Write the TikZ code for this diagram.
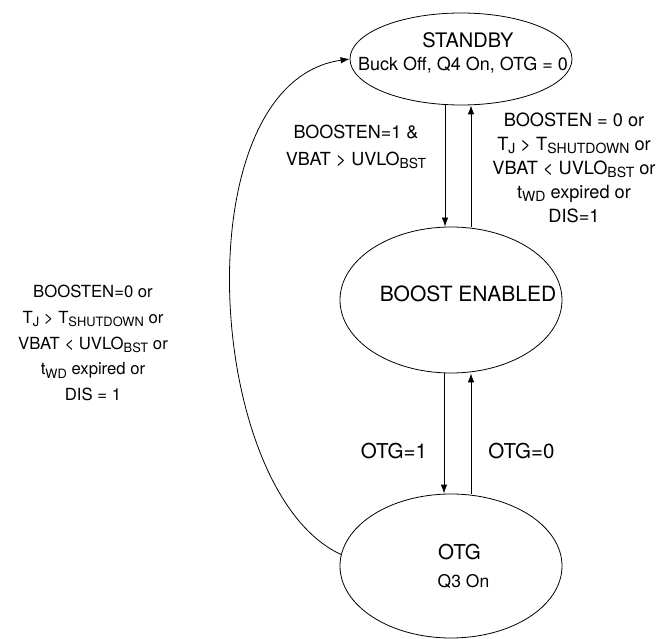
\documentclass[tikz,border=0pt]{standalone}
\usepackage{fontspec}
\setmainfont{TeX Gyre Heros}
\usetikzlibrary{shapes.geometric,arrows.meta}
\newcommand{\sub}[1]{\raisebox{-3.2pt}{\scalebox{0.77}{#1}}}

\begin{document}
\begin{tikzpicture}[x=1pt,y=-1pt,
    state/.style={draw, ellipse, line width=0.8pt, minimum width=222pt, minimum height=146pt, inner sep=0pt},
    flow/.style={-{Latex[length=9pt,width=6.5pt]}, line width=0.8pt},
    cond/.style={align=center, inner sep=0pt}]
      \useasboundingbox (0,0) rectangle (659,639);

      % STANDBY state
      \node[state, minimum height=92pt] (standby) at (461,59) {};
      \node[anchor=base, font=\fontsize{20}{24}\selectfont] (standbyname) at (468,48) {STANDBY};
      \node[anchor=base, font=\fontsize{18}{21}\selectfont] (standbyinfo) at (463,70.5) {Buck Off, Q4 On, OTG = 0};

      % BOOST ENABLED state
      \node[state] (boost) at (451,300) {};
      \node[anchor=base, font=\fontsize{21}{25}\selectfont] (boostname) at (468,301.5) {BOOST ENABLED};

      % OTG state
      \node[state, minimum height=144pt] (otg) at (451,566) {};
      \node[anchor=base, font=\fontsize{20.5}{24}\selectfont] (otgname) at (459.5,559.5) {OTG};
      \node[anchor=base, font=\fontsize{17.5}{21}\selectfont] (otginfo) at (463.5,587) {Q3 On};

      % STANDBY <-> BOOST ENABLED
      \draw[flow] ([xshift=-16pt]standby.south) -- ([xshift=-6pt]boost.north);
      \draw[flow] ([xshift=20pt]boost.north) -- ([xshift=10pt]standby.south);
      \node[cond, font=\fontsize{18}{27}\selectfont] (enter) at (356,147) {BOOSTEN=1 \&\\VBAT > UVLO\sub{BST}};
      \node[cond, font=\fontsize{18.2}{24}\selectfont] (leave) at (574,168) {BOOSTEN = 0 or\\T\sub{J} > T\sub{SHUTDOWN} or\\VBAT < UVLO\sub{BST} or\\t\sub{WD} expired or\\DIS=1};

      % BOOST ENABLED <-> OTG
      \draw[flow] ([xshift=-7pt]boost.south) -- ([xshift=-7pt]otg.north);
      \draw[flow] ([xshift=20pt]otg.north) -- ([xshift=20pt]boost.south);
      \node[anchor=base, font=\fontsize{20.5}{24}\selectfont] (otgon) at (394,458) {OTG=1};
      \node[anchor=base, font=\fontsize{20.5}{24}\selectfont] (otgoff) at (521.5,458) {OTG=0};

      % OTG back to STANDBY
      \draw[flow] (otg.174) .. controls (204,492) and (181,83) .. (standby.west);
      \node[cond, font=\fontsize{16.7}{25.8}\selectfont] (abort) at (93,343) {BOOSTEN=0 or\\T\sub{J} > T\sub{SHUTDOWN} or\\VBAT < UVLO\sub{BST} or\\t\sub{WD} expired or\\DIS = 1};
    \end{tikzpicture}
\end{document}
